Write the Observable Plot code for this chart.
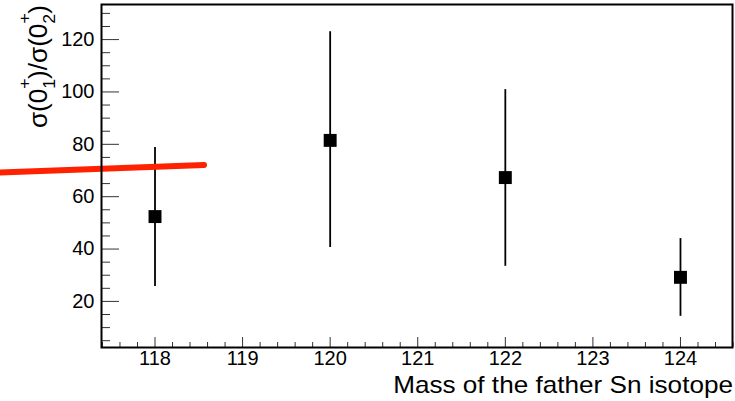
<!DOCTYPE html>
<html><head><meta charset="utf-8">
<script src="https://cdn.jsdelivr.net/npm/d3@7"></script>
<script src="https://cdn.jsdelivr.net/npm/@observablehq/plot@0.6"></script>
<style>
body{margin:0;background:#fff}
#chart{width:735px;height:401px;overflow:hidden}
svg{overflow:visible}
</style>
</head><body><div id="chart"></div>
<script>
const masses = [118, 120, 122, 124];
const ratio = [52.4, 81.5, 67.3, 29.2];
const errLow = [25.7, 40.6, 33.4, 14.3];
const errHigh = [78.8, 123.0, 100.9, 44.0];
const fitMass = [116.23, 118.56];
const fitRatio = [69.2, 72.1];
const xTickLabels = [118, 119, 120, 121, 122, 123, 124];
const yTickLabels = [20, 40, 60, 80, 100, 120];
const xDomain = [117.389, 124.594];
const yDomain = [2.4, 133.4];
const xTitle = "Mass of the father Sn isotope";

const points = masses.map((m, i) => ({m, r: ratio[i], lo: errLow[i], hi: errHigh[i]}));
const fit = fitMass.map((m, i) => ({m, r: fitRatio[i]}));
const xMinor = d3.range(117.4, 124.61, 0.2).map(v => +v.toFixed(1)).filter(v => Math.abs(v - Math.round(v)) > 1e-6);
const yMinor = d3.range(5, 134, 5).filter(v => v % 20 !== 0);

const W = 735, H = 401, mL = 101, mR = 3, mT = 4, mB = 54;
const pw = W - mL - mR, ph = H - mT - mB;
const font = "'Liberation Sans', Arial, Helvetica, sans-serif";

const chart = Plot.plot({
  width: W, height: H,
  marginLeft: mL, marginRight: mR, marginTop: mT, marginBottom: mB,
  style: {fontFamily: font, background: "white", overflow: "visible"},
  x: {domain: xDomain, axis: null},
  y: {domain: yDomain, axis: null},
  marks: [
    Plot.tickY(yTickLabels, {y: d => d, stroke: "#333", strokeWidth: 1, insetRight: pw - 18}),
    Plot.tickY(yMinor, {y: d => d, stroke: "#333", strokeWidth: 1, insetRight: pw - 9}),
    Plot.tickX(xTickLabels, {x: d => d, stroke: "#333", strokeWidth: 1, insetTop: ph - 10}),
    Plot.tickX(xMinor, {x: d => d, stroke: "#333", strokeWidth: 1, insetTop: ph - 5}),
    Plot.text(yTickLabels, {y: d => d, text: d => String(d), frameAnchor: "left", textAnchor: "end", dx: -7, fontSize: 20, fill: "black"}),
    Plot.text(xTickLabels, {x: d => d, text: d => String(d), frameAnchor: "bottom", dy: 11, fontSize: 20, lineAnchor: "middle", fill: "black"}),
    Plot.ruleX(points, {x: "m", y1: "lo", y2: "hi", stroke: "black", strokeWidth: 1.8}),
    Plot.dot(points, {x: "m", y: "r", symbol: "square", r: 7.3, fill: "black", stroke: "none"}),
    Plot.line(fit, {x: "m", y: "r", stroke: "#ff2200", strokeWidth: 6}),
    Plot.frame({stroke: "black", strokeWidth: 2})
  ]
});
document.getElementById("chart").appendChild(chart);

const svg = d3.select(chart);

// x-axis title
const gx = svg.append("g").attr("transform", "translate(733,393)");
const tx = gx.append("text").attr("text-anchor", "end").attr("font-family", font)
  .attr("font-size", 23).attr("fill", "black").text(xTitle);
const bx = tx.node().getBBox();
gx.attr("transform", `translate(733,393) scale(${340 / bx.width},1)`);

// y-axis title (rotated) with sub/superscripts
const gy = svg.append("g").attr("transform", "translate(47,128) rotate(-90)");
const ty = gy.append("text").attr("text-anchor", "start").attr("font-family", font)
  .attr("font-size", 25).attr("fill", "black");
const parts = [
  {t: "σ(0"},
  {t: "+", s: 17, dy: -17},
  {t: "1", s: 17, dx: -10, dy: 25},
  {t: ")/σ(0", dy: -8},
  {t: "+", s: 17, dy: -17},
  {t: "2", s: 17, dx: -10, dy: 25},
  {t: ")", dy: -8}
];
for (const p of parts) {
  const ts = ty.append("tspan").text(p.t);
  if (p.s) ts.attr("font-size", p.s);
  if (p.dx) ts.attr("dx", p.dx);
  if (p.dy) ts.attr("dy", p.dy);
}
const by = ty.node().getBBox();
gy.attr("transform", `translate(47,128) rotate(-90) scale(${123 / by.width},1)`);
</script>
</body></html>
